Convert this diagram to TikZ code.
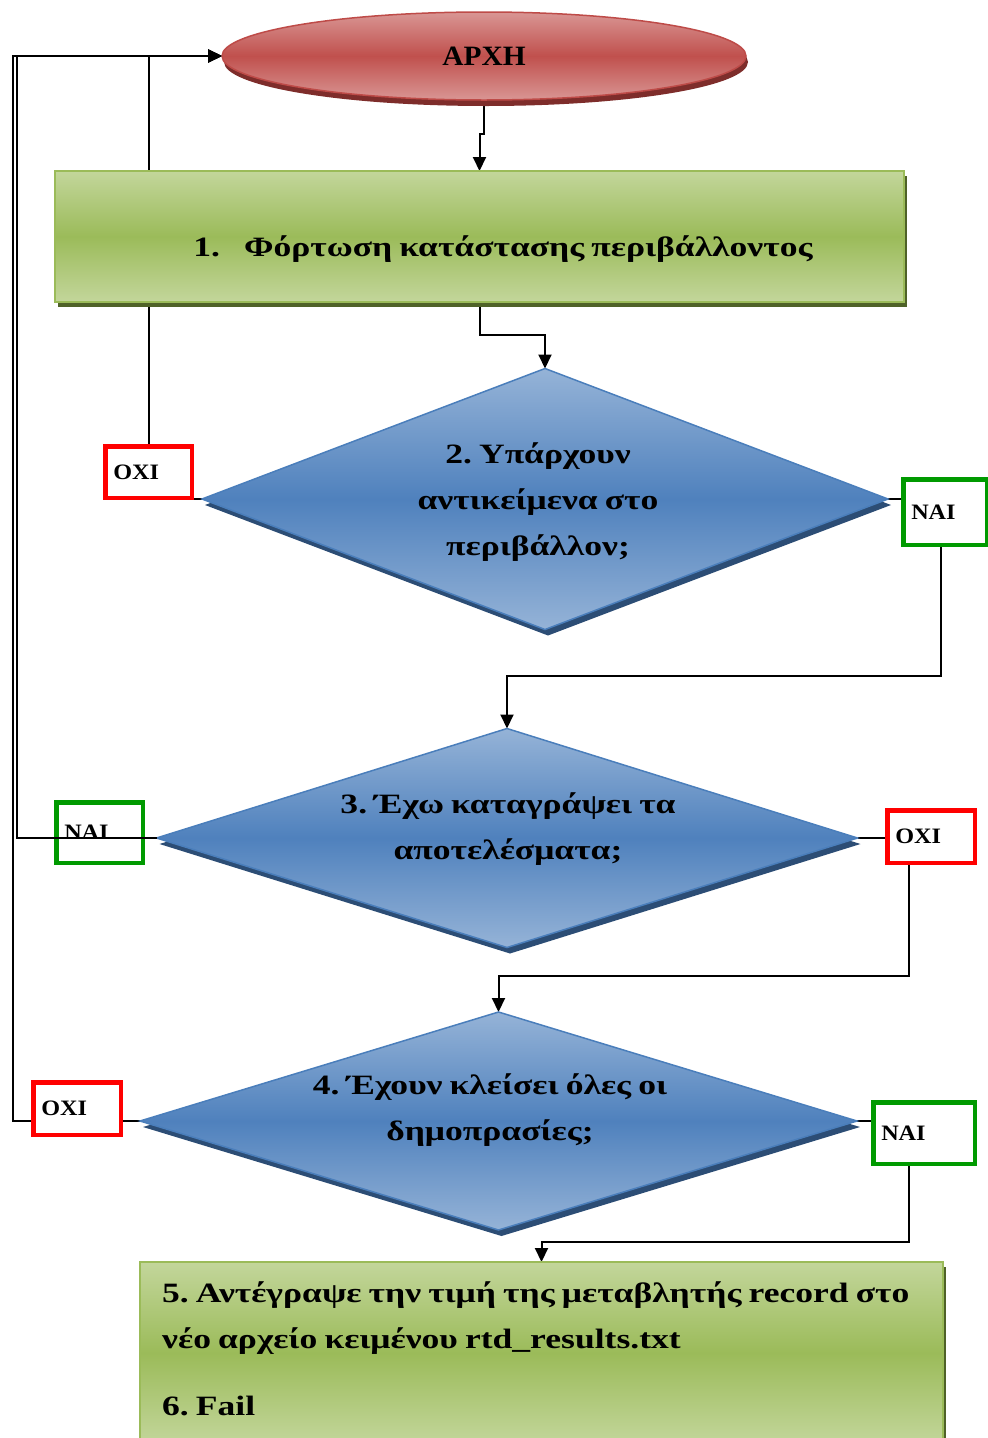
\documentclass[tikz,border=0pt]{standalone}
\usepackage{fontspec}
\setmainfont{Liberation Serif}
\newfontfamily\widefont{Liberation Serif}[FakeStretch=1.27, WordSpace=0.8]
\newfontfamily\tagfamily{Liberation Serif}[FakeStretch=1.1]
\newfontfamily\titlefamily{Liberation Serif}[FakeStretch=1.05]
\usetikzlibrary{shapes.geometric,arrows.meta,shadows,backgrounds}
\frenchspacing

\definecolor{redlight}{HTML}{D99694}
\definecolor{redmid}{HTML}{C0504D}
\definecolor{redline}{HTML}{BE4B48}
\definecolor{redshade}{HTML}{7E2D2B}
\definecolor{greenlight}{HTML}{C3D69B}
\definecolor{greenmid}{HTML}{9BBB59}
\definecolor{greenline}{HTML}{9BBB59}
\definecolor{greenshade}{HTML}{4F6228}
\definecolor{bluelight}{HTML}{95B3D7}
\definecolor{bluemid}{HTML}{4F81BD}
\definecolor{blueline}{HTML}{4A7EBB}
\definecolor{blueshade}{HTML}{2C4D75}
\definecolor{yesgreen}{HTML}{009A00}
\definecolor{nored}{HTML}{FF0000}

\newcommand\bodyfont{\widefont\fontsize{28}{46}\selectfont\bfseries}
\newcommand\titlefont{\titlefamily\fontsize{28}{46}\selectfont\bfseries}
\newcommand\tagfont{\tagfamily\fontsize{22}{24}\selectfont\bfseries}

\tikzset{
  startbox/.style={ellipse, inner sep=0pt, outer sep=0pt, draw=redline, line width=1.5pt,
    top color=redlight, bottom color=redlight, middle color=redmid,
    drop shadow={shadow xshift=2pt, shadow yshift=-6pt, fill=redshade, opacity=1}},
  procbox/.style={rectangle, inner sep=0pt, outer sep=0pt, draw=greenline, line width=2pt,
    top color=greenlight, bottom color=greenlight, middle color=greenmid,
    drop shadow={shadow xshift=3pt, shadow yshift=-5pt, fill=greenshade, opacity=1}},
  testbox/.style={diamond, inner sep=0pt, outer sep=0pt, draw=blueline, line width=1.5pt,
    top color=bluelight, bottom color=bluelight, middle color=bluemid,
    drop shadow={shadow xshift=3pt, shadow yshift=-6pt, fill=blueshade, opacity=1}},
  tagbox/.style={rectangle, draw, line width=4.5pt, fill=white, inner xsep=8pt, inner ysep=0pt,
    outer sep=0pt, align=left, font=\tagfont},
  yesbox/.style={tagbox, draw=yesgreen},
  nobox/.style={tagbox, draw=nored},
  txt/.style={inner sep=0pt, align=center, font=\bodyfont},
  link/.style={draw, line width=2pt},
  flow/.style={link, -{Triangle[length=14pt,width=13pt]}}
}

\begin{document}
\begin{tikzpicture}[x=1pt, y=-1pt]
\useasboundingbox (0,0) rectangle (988,1438);

% start
\node[startbox, minimum width=524, minimum height=88, font=\titlefont] (start) at (484,56) {ΑΡΧΗ};

% step 1
\node[procbox, minimum width=849, minimum height=131] (load) at (479.5,236.5) {};
\node[txt] (loadtxt) at (503,249) {1.\hspace{24pt}Φόρτωση κατάστασης περιβάλλοντος};

% decision 2
\node[testbox, minimum width=686, minimum height=261] (objs) at (545,499) {};
\node[txt] (objstxt) at (538,502) {2. Υπάρχουν\\αντικείμενα στο\\περιβάλλον;};

% decision 3
\node[testbox, minimum width=701, minimum height=219] (logged) at (507,838) {};
\node[txt] (loggedtxt) at (508,829) {3. Έχω καταγράψει τα\\αποτελέσματα;};

% decision 4
\node[testbox, minimum width=717, minimum height=218] (closed) at (498.5,1121) {};
\node[txt] (closedtxt) at (490,1110) {4. Έχουν κλείσει όλες οι\\δημοπρασίες;};

% step 5 / 6
\node[procbox, minimum width=803, minimum height=182] (copy) at (541.5,1353) {};
\node[txt, align=left, anchor=west] (copytxt) at (162,1349)
  {5. Αντέγραψε την τιμή της μεταβλητής record στο\\νέο αρχείο κειμένου rtd\_results.txt\\[21pt]6. Fail};

% answer tags
\node[nobox,  minimum width=86.5,  minimum height=51.5, text width=70.5] (no2)  at (148.5,472)   {ΟΧΙ};
\node[yesbox, minimum width=83.5,  minimum height=65.5, text width=67.5] (yes2) at (945,512)     {ΝΑΙ};
\node[yesbox, minimum width=86.5,  minimum height=60.5, text width=70.5] (yes3) at (99.5,832.5)  {ΝΑΙ};
\node[nobox,  minimum width=87.5,  minimum height=52.5, text width=71.5] (no3)  at (931,836.5)   {ΟΧΙ};
\node[nobox,  minimum width=87.5,  minimum height=52.5, text width=71.5] (no4)  at (77,1108.5)   {ΟΧΙ};
\node[yesbox, minimum width=101.5, minimum height=61.5, text width=85.5] (yes4) at (924,1133)    {ΝΑΙ};

% connectors that run behind the shapes
\begin{pgfonlayer}{background}
  \draw[flow] (start.south) -- ++(0,34) -| (load.north);
  \draw[flow] (load.south) -- ++(0,33) -| (objs.north);
  \draw[link] (objs.west) -- (objs.west -| no2.east);
  \draw[flow] (no2.north) |- (start.west);
  \draw[link] (objs.east) -- (objs.east -| yes2.west);
  \draw[flow] ([xshift=-4pt]yes2.south) -- ++(0,131) -| (logged.north);
  \draw[link] (logged.east) -- (logged.east -| no3.west);
  \draw[flow] ([xshift=-22pt]no3.south) -- ++(0,113) -| (closed.north);
  \draw[link] (closed.west) -- (closed.west -| no4.east);
  \draw[flow] (closed.west -| no4.west) -- ++(-20,0) |- (start.west);
  \draw[link] (closed.east) -- (closed.east -| yes4.west);
  \draw[flow] ([xshift=-15pt]yes4.south) -- ++(0,78) -- ++(-200,0) -| (copy.north);
\end{pgfonlayer}

% this one crosses over its tag
\draw[flow] (logged.west) -- ++(-139.5,0) |- (start.west);
\end{tikzpicture}
\end{document}
